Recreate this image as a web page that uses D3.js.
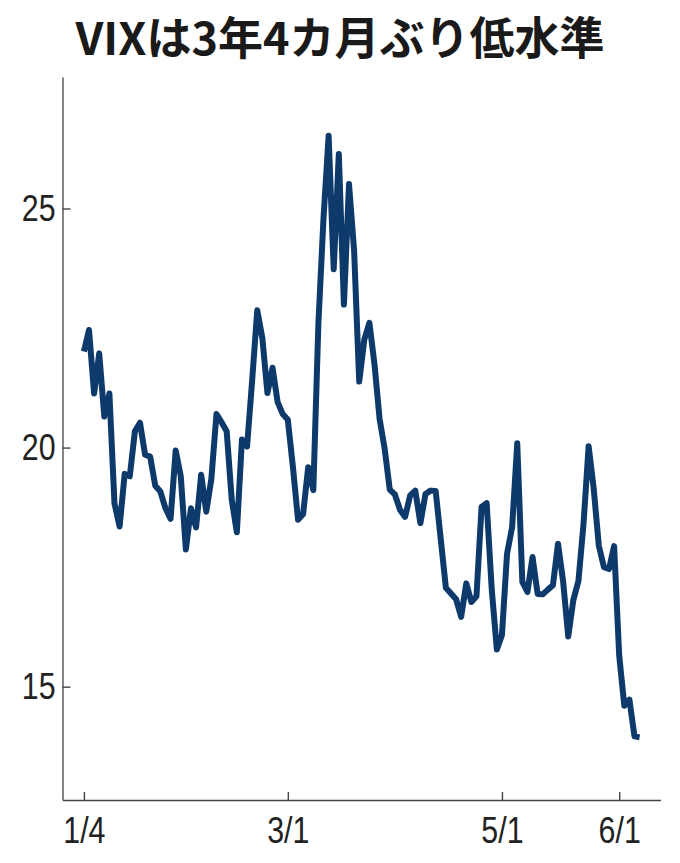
<!DOCTYPE html>
<html lang="ja">
<head>
<meta charset="utf-8">
<title>VIX</title>
<script src="https://cdn.jsdelivr.net/npm/d3@7"></script>
<style>
  body { margin: 0; background: #fff; }
  .tick text { font-family: "Liberation Sans", Arial, sans-serif; }
</style>
</head>
<body>
<script>
// trading days shown on the chart (as plotted, one point per entry)
var dates = [
  "2023-01-04","2023-01-05","2023-01-06","2023-01-09","2023-01-10","2023-01-11","2023-01-12","2023-01-13",
  "2023-01-16","2023-01-17","2023-01-18","2023-01-19","2023-01-20","2023-01-23","2023-01-24","2023-01-25",
  "2023-01-26","2023-01-27","2023-01-30","2023-01-31","2023-02-01","2023-02-02","2023-02-03","2023-02-06",
  "2023-02-07","2023-02-08","2023-02-09","2023-02-10","2023-02-13","2023-02-14","2023-02-15","2023-02-16",
  "2023-02-17","2023-02-20","2023-02-21","2023-02-22","2023-02-23","2023-02-24","2023-02-27","2023-02-28",
  "2023-03-01","2023-03-02","2023-03-03","2023-03-06","2023-03-07","2023-03-08","2023-03-09","2023-03-10",
  "2023-03-13","2023-03-14","2023-03-15","2023-03-16","2023-03-17","2023-03-20","2023-03-21","2023-03-22",
  "2023-03-23","2023-03-24","2023-03-27","2023-03-28","2023-03-29","2023-03-30","2023-03-31","2023-04-03",
  "2023-04-04","2023-04-05","2023-04-06","2023-04-10","2023-04-11","2023-04-12","2023-04-13","2023-04-14",
  "2023-04-17","2023-04-18","2023-04-19","2023-04-20","2023-04-21","2023-04-24","2023-04-25","2023-04-26",
  "2023-04-27","2023-04-28","2023-05-01","2023-05-02","2023-05-03","2023-05-04","2023-05-05","2023-05-08",
  "2023-05-09","2023-05-10","2023-05-11","2023-05-12","2023-05-15","2023-05-16","2023-05-17","2023-05-18",
  "2023-05-19","2023-05-22","2023-05-23","2023-05-24","2023-05-25","2023-05-26","2023-05-29","2023-05-30",
  "2023-05-31","2023-06-01","2023-06-02","2023-06-05","2023-06-06","2023-06-07"
];

var vix = [
  22.01, 22.46, 21.13, 21.97, 20.65, 21.13, 18.83, 18.35,
  19.45, 19.40, 20.34, 20.52, 19.85, 19.81, 19.20, 19.08,
  18.73, 18.51, 19.94, 19.40, 17.87, 18.73, 18.33, 19.43,
  18.66, 19.35, 20.70, 20.53, 20.34, 18.91, 18.23, 20.17,
  20.02, 21.40, 22.87, 22.29, 21.14, 21.67, 20.95, 20.70,
  20.58, 19.59, 18.49, 18.61, 19.59, 19.11, 22.61, 24.80,
  26.52, 23.73, 26.14, 22.99, 25.51, 24.12, 21.38, 22.26,
  22.61, 21.74, 20.60, 19.97, 19.12, 19.02, 18.70, 18.55,
  19.00, 19.10, 18.42, 19.03, 19.10, 19.09, 18.08, 17.07,
  16.95, 16.83, 16.46, 17.16, 16.77, 16.89, 18.76, 18.84,
  17.03, 15.78, 16.08, 17.78, 18.34, 20.09, 17.19, 16.98,
  17.71, 16.94, 16.93, 17.03, 17.12, 17.99, 17.20, 16.05,
  16.81, 17.21, 18.40, 20.03, 19.14, 17.95, 17.50, 17.46,
  17.94, 15.65, 14.60, 14.73, 13.96, 13.94
];

var tickDates = ["2023-01-04", "2023-03-01", "2023-05-01", "2023-06-01"];
var tickLabels = ["1/4", "3/1", "5/1", "6/1"];
var yTicks = [15, 20, 25];
var title = "VIXは3年4カ月ぶり低水準";

var w = 680, h = 863;
var mLeft = 62.5, mRight = 660.5, mTop = 77, mBottom = 800;
var narrow = 0.82; // squeeze the tick digits like a narrow face

var svg = d3.select("body").append("svg")
  .attr("width", w)
  .attr("height", h);

// x runs over the plotted points, so each entry gets an equal step
var x = d3.scaleLinear()
  .domain([-4.2, 113.1])
  .range([mLeft, mRight]);

var y = d3.scaleLinear()
  .domain([12.63, 27.75])
  .range([mBottom, mTop]);

var xAxis = d3.axisBottom(x)
  .tickValues(tickDates.map(function(d) { return dates.indexOf(d); }))
  .tickFormat(function(d, i) { return tickLabels[i]; })
  .tickSize(-8)
  .tickSizeOuter(0)
  .tickPadding(17);

var yAxis = d3.axisLeft(y)
  .tickValues(yTicks)
  .tickSize(-8)
  .tickSizeOuter(0)
  .tickPadding(7);

var gx = svg.append("g")
  .attr("transform", "translate(0," + mBottom + ")")
  .call(xAxis);

var gy = svg.append("g")
  .attr("transform", "translate(" + mLeft + ",0)")
  .call(yAxis);

[gx, gy].forEach(function(g) {
  g.select(".domain").attr("stroke", "#444").attr("stroke-width", 1.6);
  g.selectAll(".tick line").attr("stroke", "#444").attr("stroke-width", 1.4);
  g.selectAll(".tick text")
    .attr("fill", "#222")
    .attr("font-size", 37)
    .attr("transform", "scale(" + narrow + ",1)");
});
gy.select(".domain").attr("stroke", "#666");
gy.selectAll(".tick text").attr("x", -7 / narrow);

var line = d3.line()
  .x(function(d, i) { return x(i); })
  .y(function(d) { return y(d); });

svg.append("path")
  .datum(vix)
  .attr("d", line)
  .attr("fill", "none")
  .attr("stroke", "#0e3a6b")
  .attr("stroke-width", 6)
  .attr("stroke-linejoin", "round");

svg.append("text")
  .attr("x", 340)
  .attr("y", 55)
  .attr("text-anchor", "middle")
  .attr("font-family", "'Noto Sans CJK JP', sans-serif")
  .attr("font-weight", "bold")
  .attr("font-size", 45)
  .attr("fill", "#1a1a1a")
  .text(title);
</script>
</body>
</html>
